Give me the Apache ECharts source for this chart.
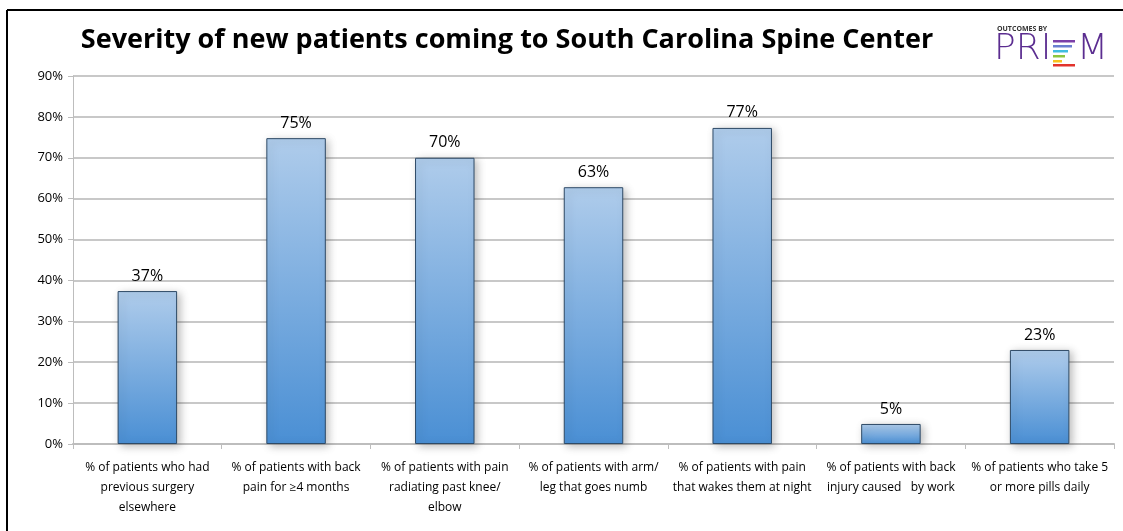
<!DOCTYPE html>
<html><head><meta charset="utf-8">
<script src="https://cdn.jsdelivr.net/npm/echarts@6/dist/echarts.min.js"></script>
<style>html,body{margin:0;padding:0;background:#fff}#c{width:1123px;height:531px}</style>
</head><body><div id="c"></div>
<script>
const categories = [
  "% of patients who had\nprevious surgery\nelsewhere",
  "% of patients with back\npain for \u22654 months",
  "% of patients with pain\nradiating past knee/\nelbow",
  "% of patients with arm/\nleg that goes numb",
  "% of patients with pain\nthat wakes them at night",
  "% of patients with back\ninjury caused   by work",
  "% of patients who take 5\nor more pills daily"
];
const values = [37.4, 74.8, 70.0, 62.8, 77.3, 4.9, 23.0];
const yTicks = [0, 10, 20, 30, 40, 50, 60, 70, 80, 90];

const FONT = "'Open Sans', 'Liberation Sans', sans-serif";
const chart = echarts.init(document.getElementById('c'));
chart.setOption({
  animation: false,
  backgroundColor: '#fff',
  title: {
    text: 'Severity of new patients coming to South Carolina Spine Center',
    left: 502, top: 22, textAlign: 'center',
    textStyle: {fontFamily: FONT, fontWeight: 'bold', fontSize: 27, color: '#000'}
  },
  grid: {left: 73, right: 9, top: 76, bottom: 87},
  xAxis: {
    type: 'category', data: categories,
    axisLine: {lineStyle: {color: '#bdbdbd', width: 2}},
    axisTick: {show: true, alignWithLabel: false, length: 5, lineStyle: {color: '#bdbdbd'}},
    axisLabel: {interval: 0, fontFamily: FONT, fontSize: 12, color: '#000', lineHeight: 20, margin: 14}
  },
  yAxis: {
    type: 'value', min: 0, max: 90, interval: 10,
    axisLine: {show: true, lineStyle: {color: '#bdbdbd', width: 1}},
    axisTick: {show: true, length: 5, lineStyle: {color: '#bdbdbd'}},
    splitLine: {lineStyle: {color: '#c8c8c8', width: 2}},
    axisLabel: {fontFamily: FONT, fontSize: 13, color: '#000', margin: 10,
      formatter: v => yTicks.includes(v) ? v + '%' : ''}
  },
  series: [{
    type: 'bar', data: values, barWidth: '40%',
    itemStyle: {
      color: new echarts.graphic.LinearGradient(0, 0, 0, 1, [
        {offset: 0, color: '#afcceb'}, {offset: 1, color: '#4a8fd4'}]),
      borderColor: '#2e4a66', borderWidth: 1,
      shadowColor: 'rgba(0,0,0,0.25)', shadowBlur: 8, shadowOffsetX: 3, shadowOffsetY: 2
    },
    label: {show: true, position: 'top', distance: 7, fontFamily: FONT, fontSize: 16, color: '#000',
      formatter: p => Math.round(p.value) + '%'}
  }],
  graphic: [
    {type: 'line', shape: {x1: 7, y1: 10, x2: 1123, y2: 10}, style: {stroke: '#000', lineWidth: 2}},
    {type: 'line', shape: {x1: 7, y1: 10, x2: 7, y2: 531}, style: {stroke: '#000', lineWidth: 2}},
    {type: 'text', left: 997, top: 25, style: {text: 'OUTCOMES BY', fontFamily: FONT, fontSize: 7, fontWeight: 'bold', fill: '#333'}},
    {type: 'text', left: 994, top: 32, style: {text: 'PRI', fontFamily: "'DejaVu Sans', sans-serif", fontWeight: 'lighter', fontSize: 36, fill: '#5b2d90'}},
    {type: 'rect', shape: {x: 1053, y: 40, width: 22, height: 2.5}, style: {fill: '#7b3fa8'}},
    {type: 'rect', shape: {x: 1053, y: 45, width: 19, height: 2.5}, style: {fill: '#6a7fd0'}},
    {type: 'rect', shape: {x: 1053, y: 50, width: 15, height: 2.5}, style: {fill: '#3fbde0'}},
    {type: 'rect', shape: {x: 1053, y: 55, width: 12, height: 2.5}, style: {fill: '#8cc63f'}},
    {type: 'rect', shape: {x: 1053, y: 60, width: 9, height: 2.5}, style: {fill: '#f7c21e'}},
    {type: 'rect', shape: {x: 1053, y: 64, width: 22, height: 2.5}, style: {fill: '#e2332c'}},
    {type: 'text', left: 1077, top: 32, style: {text: 'M', fontFamily: "'DejaVu Sans', sans-serif", fontWeight: 'lighter', fontSize: 36, fill: '#5b2d90'}}
  ]
});
</script></body></html>
